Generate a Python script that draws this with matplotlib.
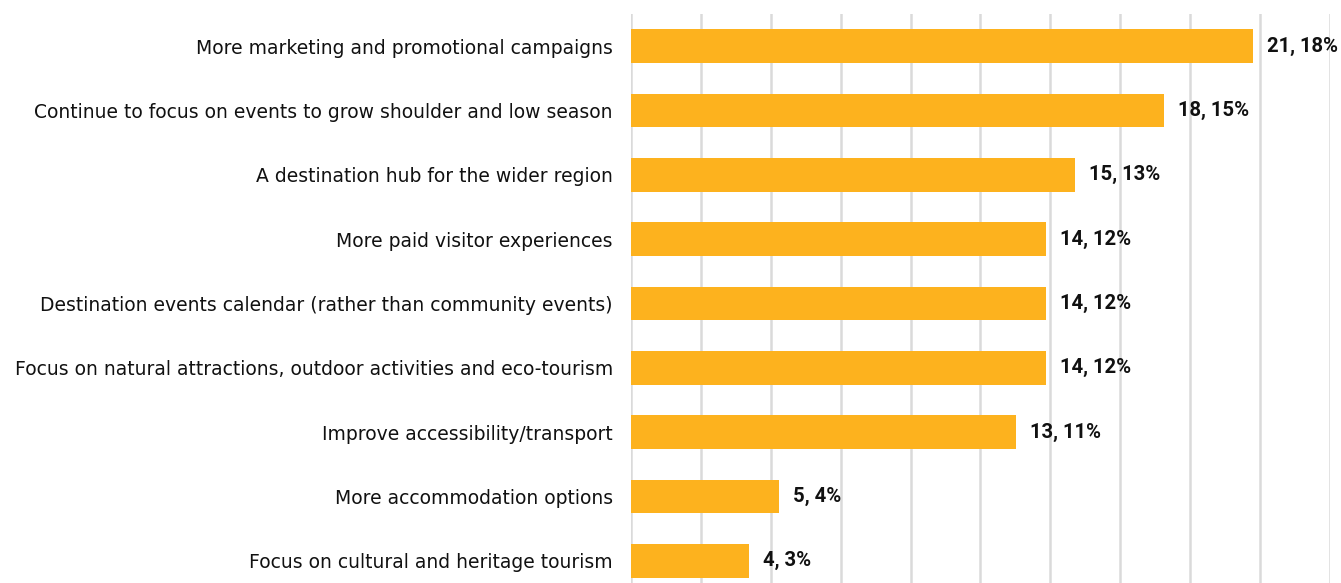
import matplotlib.pyplot as plt
from matplotlib.ticker import MultipleLocator

categories = [
    "More marketing and promotional campaigns",
    "Continue to focus on events to grow shoulder and low season",
    "A destination hub for the wider region",
    "More paid visitor experiences",
    "Destination events calendar (rather than community events)",
    "Focus on natural attractions, outdoor activities and eco-tourism",
    "Improve accessibility/transport",
    "More accommodation options",
    "Focus on cultural and heritage tourism",
]
counts = [21, 18, 15, 14, 14, 14, 13, 5, 4]
percents = [18, 15, 13, 12, 12, 12, 11, 4, 3]
total_responses = 118

bar_color = "#FDB21E"
grid_color = "#DADADA"

plt.rcParams["font.family"] = ["DejaVu Sans"]

fig = plt.figure(figsize=(13.41, 5.83), dpi=100)
ax = fig.add_axes([0.4705, -0.0172, 0.5213, 0.9932])

share = [c / total_responses * 100 for c in counts]
ypos = list(range(len(categories)))
ax.barh(ypos, share, height=0.52, color=bar_color, zorder=3)

for y, s, c, p in zip(ypos, share, counts, percents):
    ax.text(s + 0.4, y, f"{c}, {p}%", va="center", ha="left",
            fontsize=14.6, fontweight="bold", family=["Roboto", "DejaVu Sans"],
            color="#111111", zorder=4)

ax.set_xlim(0, 20)
ax.set_ylim(len(categories) - 0.5, -0.5)
ax.xaxis.set_major_locator(MultipleLocator(2))
ax.grid(axis="x", color=grid_color, linewidth=1.8, zorder=0)
ax.tick_params(axis="x", length=0, labelbottom=False)
ax.set_yticks(ypos)
ax.set_yticklabels(categories, fontsize=13.5, color="#111111")
ax.tick_params(axis="y", length=0, pad=13)
for sp in ax.spines.values():
    sp.set_visible(False)

fig.savefig("out.png", dpi=100)
